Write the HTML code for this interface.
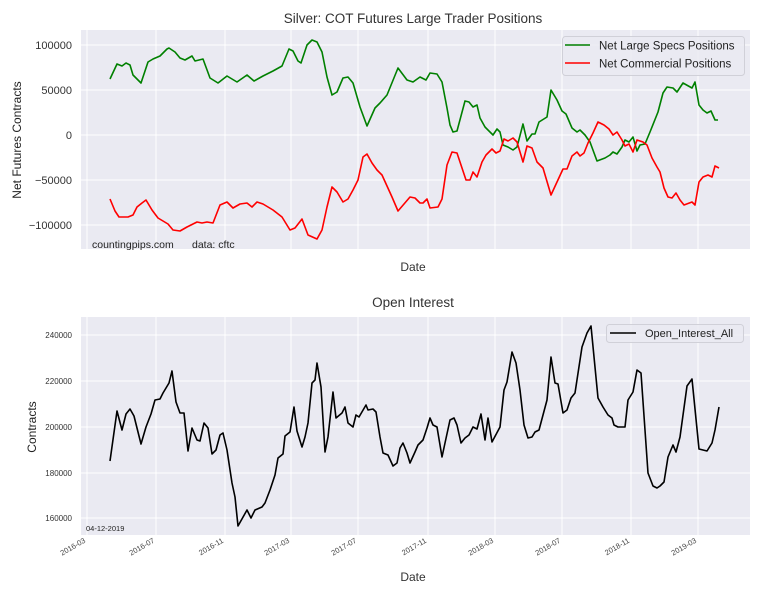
<!DOCTYPE html>
<html><head><meta charset="utf-8"><style>
html,body{margin:0;padding:0;background:#fff;}
svg{display:block;font-family:"Liberation Sans",sans-serif;}
</style></head><body>
<svg width="765" height="595" viewBox="0 0 765 595" xmlns="http://www.w3.org/2000/svg">
<rect width="765" height="595" fill="#fff"/>
<!-- TOP AXES -->
<rect x="81" y="30" width="669" height="219" fill="#eaeaf2"/>
<g stroke="#fff" stroke-width="1">
<line x1="87" y1="30" x2="87" y2="249"/><line x1="156" y1="30" x2="156" y2="249"/><line x1="225" y1="30" x2="225" y2="249"/><line x1="291" y1="30" x2="291" y2="249"/><line x1="358" y1="30" x2="358" y2="249"/><line x1="428" y1="30" x2="428" y2="249"/><line x1="495" y1="30" x2="495" y2="249"/><line x1="562" y1="30" x2="562" y2="249"/><line x1="631" y1="30" x2="631" y2="249"/><line x1="698" y1="30" x2="698" y2="249"/>
<line x1="81" y1="45" x2="750" y2="45"/><line x1="81" y1="90" x2="750" y2="90"/><line x1="81" y1="135" x2="750" y2="135"/><line x1="81" y1="180" x2="750" y2="180"/><line x1="81" y1="225" x2="750" y2="225"/>
</g>
<g font-size="11" fill="#333" text-anchor="end">
<text x="72" y="49">100000</text><text x="72" y="94">50000</text><text x="72" y="139">0</text><text x="72" y="184">−50000</text><text x="72" y="229">−100000</text>
</g>
<text x="413" y="23" font-size="13.5" fill="#333" text-anchor="middle">Silver: COT Futures Large Trader Positions</text>
<text x="21" y="140" font-size="12" fill="#222" text-anchor="middle" transform="rotate(-90 21 140)">Net Futures Contracts</text>
<text x="413" y="271" font-size="12" fill="#333" text-anchor="middle">Date</text>
<text x="92" y="248" font-size="10.5" fill="#222">countingpips.com</text>
<text x="192" y="248" font-size="10.5" fill="#222">data: cftc</text>
<polyline fill="none" stroke="#008000" stroke-width="1.6" stroke-linejoin="round" points="110,79 117,64 122,66 126,63 130,65 133,75 141,83 148,62 153,59 160,56 167,49 169,48 175,52 180,58 185,60 192,56 195,61 203,59 210,78 218,83 227,76 237,82 247,75 254,81 263,76 273,71 282,66 289,49 293,51 298,61 301,63 307,45 312,40 317,42 322,52 327,77 332,95 337,92 343,78 348,77 353,83 360,107 367,126 375,108 380,103 387,95 398,68 407,80 413,82 420,77 426,80 430,73 437,74 442,82 447,108 450,125 453,132 457,131 465,101 469,102 473,107 477,105 480,118 485,127 493,135 497,129 500,132 503,145 508,147 513,150 517,147 523,124 527,141 532,134 535,134 539,122 547,117 551,90 557,100 562,111 566,114 572,128 577,132 580,130 585,135 590,142 597,161 605,158 610,155 613,152 617,154 622,147 625,140 629,142 633,137 637,151 640,145 645,144 650,132 658,112 663,93 667,87 673,88 677,92 683,83 692,88 695,82 699,105 703,110 707,113 711,111 715,120 718,120"/>
<polyline fill="none" stroke="#ff0000" stroke-width="1.6" stroke-linejoin="round" points="110,199 115,211 119,217 125,217 128,217 133,215 137,207 142,203 146,200 152,210 158,218 168,224 173,230 180,231 187,227 197,222 202,223 207,222 213,223 220,205 227,202 233,208 240,204 247,203 252,207 257,202 263,204 273,210 282,217 290,230 295,228 302,219 308,235 317,239 322,230 327,207 332,187 337,192 343,202 348,199 353,190 358,180 363,157 367,154 372,163 377,170 382,175 392,197 398,211 410,197 415,198 420,203 423,203 427,199 430,208 438,207 442,199 447,165 452,152 457,153 462,168 466,180 470,180 473,172 477,177 482,162 486,155 492,149 496,153 500,151 504,139 508,141 513,138 517,142 523,162 527,146 532,148 537,162 543,168 551,195 557,182 563,169 567,169 572,156 577,152 580,156 584,153 588,143 593,133 598,122 604,125 609,129 613,135 617,132 622,140 625,146 629,144 633,152 637,140 643,142 647,145 652,158 657,167 660,172 664,188 668,197 672,198 676,193 680,200 684,205 692,202 695,205 699,182 703,177 708,175 712,177 715,166 719,168"/>
<rect x="562.5" y="36.5" width="182" height="39" rx="3" fill="#eaeaf2" fill-opacity="0.85" stroke="#d0d0d8"/>
<line x1="565" y1="45" x2="590" y2="45" stroke="#008000" stroke-width="1.6"/>
<line x1="565" y1="63" x2="590" y2="63" stroke="#ff0000" stroke-width="1.6"/>
<text x="599" y="49.5" font-size="11.5" fill="#222">Net Large Specs Positions</text>
<text x="599" y="67.5" font-size="11.5" fill="#222">Net Commercial Positions</text>

<!-- BOTTOM AXES -->
<rect x="81" y="317" width="669" height="218" fill="#eaeaf2"/>
<g stroke="#fff" stroke-width="1">
<line x1="87" y1="317" x2="87" y2="535"/><line x1="156" y1="317" x2="156" y2="535"/><line x1="225" y1="317" x2="225" y2="535"/><line x1="291" y1="317" x2="291" y2="535"/><line x1="358" y1="317" x2="358" y2="535"/><line x1="428" y1="317" x2="428" y2="535"/><line x1="495" y1="317" x2="495" y2="535"/><line x1="562" y1="317" x2="562" y2="535"/><line x1="631" y1="317" x2="631" y2="535"/><line x1="698" y1="317" x2="698" y2="535"/>
<line x1="81" y1="335" x2="750" y2="335"/><line x1="81" y1="381" x2="750" y2="381"/><line x1="81" y1="427" x2="750" y2="427"/><line x1="81" y1="473" x2="750" y2="473"/><line x1="81" y1="518" x2="750" y2="518"/>
</g>
<g font-size="8" fill="#333" text-anchor="end">
<text x="72" y="338">240000</text><text x="72" y="384">220000</text><text x="72" y="430">200000</text><text x="72" y="476">180000</text><text x="72" y="521">160000</text>
</g>
<text x="413" y="307" font-size="13.5" fill="#333" text-anchor="middle">Open Interest</text>
<text x="36" y="427" font-size="12" fill="#222" text-anchor="middle" transform="rotate(-90 36 427)">Contracts</text>
<text x="413" y="581" font-size="12" fill="#333" text-anchor="middle">Date</text>
<text x="86" y="531" font-size="7.5" fill="#222">04-12-2019</text>
<g font-size="7.5" fill="#444" text-anchor="end">
<text transform="translate(86,542) rotate(-30)">2016-03</text>
<text transform="translate(155,542) rotate(-30)">2016-07</text>
<text transform="translate(224,542) rotate(-30)">2016-11</text>
<text transform="translate(290,542) rotate(-30)">2017-03</text>
<text transform="translate(357,542) rotate(-30)">2017-07</text>
<text transform="translate(427,542) rotate(-30)">2017-11</text>
<text transform="translate(494,542) rotate(-30)">2018-03</text>
<text transform="translate(561,542) rotate(-30)">2018-07</text>
<text transform="translate(630,542) rotate(-30)">2018-11</text>
<text transform="translate(697,542) rotate(-30)">2019-03</text>
</g>
<polyline fill="none" stroke="#000" stroke-width="1.6" stroke-linejoin="round" points="110,461 117,411 122,430 126,414 130,409 134,416 141,444 146,427 151,414 155,400 160,399 163,393 166,388 169,383 172,371 176,402 180,413 184,413 188,451 192,428 197,440 200,441 204,423 208,428 212,454 216,450 220,435 223,433 227,450 232,483 235,497 238,526 247,510 251,518 255,510 262,507 265,503 270,490 275,475 278,458 283,454 285,436 290,432 294,407 297,431 302,447 305,437 308,423 312,383 315,380 317,363 321,387 325,452 328,437 333,392 336,418 342,413 345,407 348,423 353,427 356,415 359,417 366,405 368,410 373,409 376,412 380,437 383,453 388,455 393,466 397,463 400,448 403,443 407,453 410,463 415,452 418,445 423,440 427,428 430,418 433,425 437,427 442,457 445,443 450,420 454,418 457,425 461,443 465,438 469,435 473,427 477,429 481,414 485,440 488,418 492,442 500,427 504,390 507,382 512,352 516,363 520,390 524,425 528,438 532,437 535,432 539,430 547,400 551,357 555,383 558,384 563,413 567,410 571,398 575,393 582,347 587,333 591,326 598,398 603,407 608,415 612,418 614,425 618,427 625,427 628,400 633,392 637,370 641,373 648,473 653,486 657,488 660,486 664,482 668,457 673,445 676,452 680,437 687,386 692,379 699,449 707,451 712,443 715,430 719,407"/>
<rect x="606.5" y="324.5" width="137" height="18" rx="3" fill="#eaeaf2" fill-opacity="0.85" stroke="#d0d0d8"/>
<line x1="610" y1="333" x2="636" y2="333" stroke="#000" stroke-width="1.6"/>
<text x="645" y="337" font-size="11" fill="#222">Open_Interest_All</text>
</svg>
</body></html>
